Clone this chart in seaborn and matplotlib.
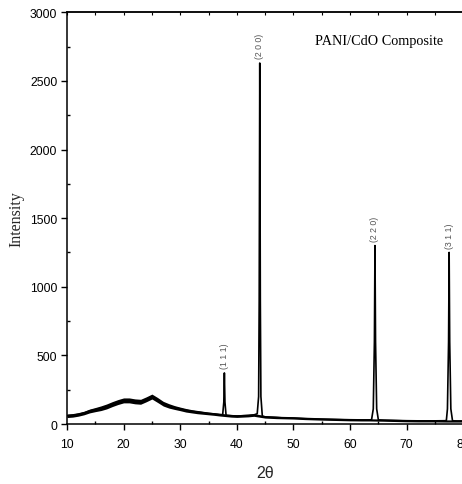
import numpy as np
import pandas as pd
import matplotlib
matplotlib.use("Agg")
import matplotlib.pyplot as plt
import seaborn as sns
from matplotlib.ticker import MultipleLocator

# Amorphous PANI background (2-theta in degrees, counts) and the half-width of its noise band
bg_theta = [10, 11, 12, 13, 14, 15, 16, 17, 18, 19, 20, 21, 22, 23, 24, 25, 26, 27, 28, 29,
            30, 31, 32, 33, 34, 35, 36, 37, 39, 40, 41, 42, 43, 45, 46, 47, 48, 50, 52, 55,
            58, 60, 62, 63.5, 66, 68, 70, 72, 75, 77, 79, 80]
bg_intensity = [60, 63, 70, 80, 95, 105, 115, 128, 145, 160, 172, 172, 165, 162, 180, 200, 175, 148, 132, 120,
                110, 100, 93, 87, 82, 77, 73, 68, 60, 58, 60, 62, 66, 52, 50, 48, 46, 44, 40, 36,
                33, 31, 30, 30, 28, 26, 24, 23, 23, 22, 22, 22]
bg_spread = [13, 13, 13, 13, 14, 15, 17, 18, 18, 18, 18, 18, 18, 18, 18, 18, 18, 17, 16, 14,
             13, 13, 12, 12, 11, 10, 10, 10, 10, 10, 10, 10, 10, 9, 9, 9, 8, 8, 8, 8,
             8, 8, 8, 8, 8, 8, 8, 8, 8, 8, 8, 8]

# CdO reflections
peak_hkl = ["(1 1 1)", "(2 0 0)", "(2 2 0)", "(3 1 1)"]
peak_pos = [37.8, 44.05, 64.4, 77.5]
peak_top = [372, 2630, 1300, 1250]
peak_theta = [
    [37.5, 37.7, 37.8, 37.9, 38.1],
    [43.6, 43.85, 43.95, 44.05, 44.15, 44.25, 44.5],
    [63.8, 64.1, 64.3, 64.4, 64.5, 64.7, 65.0],
    [76.9, 77.2, 77.4, 77.5, 77.6, 77.8, 78.1],
]
peak_intensity = [
    [68, 160, 372, 160, 62],
    [75, 200, 900, 2630, 900, 200, 58],
    [32, 110, 600, 1300, 600, 110, 30],
    [24, 110, 600, 1250, 600, 110, 23],
]

x_ticks = [10, 20, 30, 40, 50, 60, 70, 80]
y_ticks = [0, 500, 1000, 1500, 2000, 2500, 3000]

sns.set_style("ticks")
plt.rcParams["font.family"] = ["Liberation Sans", "DejaVu Sans"]

theta_all = list(bg_theta) + [t for seg in peak_theta for t in seg]
int_all = list(bg_intensity) + [v for seg in peak_intensity for v in seg]
df = pd.DataFrame({"theta": theta_all, "intensity": int_all}).sort_values("theta")

fig = plt.figure(figsize=(4.62, 4.85), dpi=100)
ax = fig.add_axes([0.145, 0.1237, 0.8578, 0.8489])

# noisy background band
lo = np.array(bg_intensity) - np.array(bg_spread)
hi = np.array(bg_intensity) + np.array(bg_spread)
ax.fill_between(bg_theta, lo, hi, color="black", linewidth=0)

sns.lineplot(data=df, x="theta", y="intensity", sort=False, estimator=None,
             color="black", linewidth=1.2, ax=ax)

for hkl, pos, top in zip(peak_hkl, peak_pos, peak_top):
    ax.annotate(hkl, (pos, top), xytext=(0, 3.5), textcoords="offset points",
                rotation=90, ha="center", va="bottom", fontsize=6.3, color="#555555")

ax.text(53.8, 2770, "PANI/CdO Composite", family="Liberation Serif", fontsize=10.3,
        ha="left", va="baseline", color="black")

ax.set_xlim(10, 80)
ax.set_ylim(0, 3000)
ax.set_xticks(x_ticks)
ax.set_yticks(y_ticks)
ax.xaxis.set_minor_locator(MultipleLocator(5))
ax.yaxis.set_minor_locator(MultipleLocator(250))

ax.tick_params(which="major", direction="out", length=4.5, width=1.0, labelsize=8.7,
               pad=2.5, color="black", labelcolor="black")
ax.tick_params(axis="x", which="major", pad=5.5)
ax.tick_params(which="minor", direction="in", length=2.5, width=1.0, color="black")
ax.tick_params(top=False, right=False, which="both")

top = ax.secondary_xaxis("top")
top.set_xticks(np.arange(10, 81, 5))
top.set_xticklabels([])
top.tick_params(direction="in", length=2.0, width=0.8, color="black")

for s in ax.spines.values():
    s.set_linewidth(1.1)
    s.set_color("black")
top.spines["top"].set_linewidth(1.1)

ax.set_xlabel("2θ", fontsize=11.5, va="center")
ax.xaxis.set_label_coords(0.5, -0.1166)
ax.set_ylabel("Intensity", family="Liberation Serif", fontsize=11.5, va="center")
ax.yaxis.set_label_coords(-0.1287, 0.5)

fig.savefig("out.png", dpi=100)
